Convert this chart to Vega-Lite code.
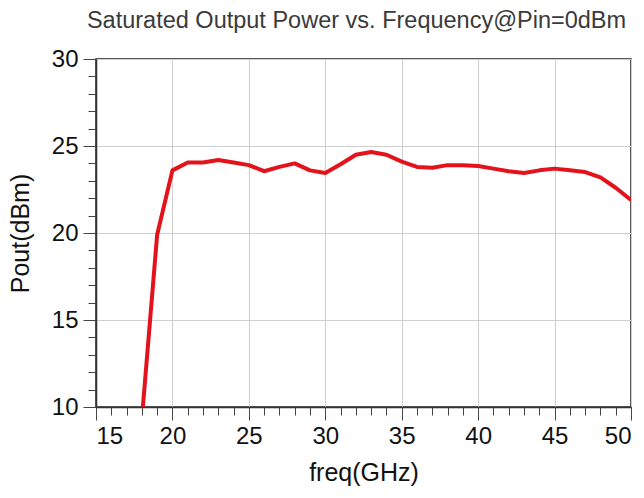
{
  "$schema": "https://vega.github.io/schema/vega-lite/v6.json",
  "width": 535,
  "height": 348,
  "autosize": {"type": "none"},
  "padding": {"left": 96, "top": 59, "right": 13, "bottom": 91},
  "background": "white",
  "title": {
    "text": "Saturated Output Power vs. Frequency@Pin=0dBm",
    "font": "Liberation Sans",
    "fontSize": 23.5,
    "fontWeight": "normal",
    "color": "#3a3a3a",
    "anchor": "middle",
    "dx": -7,
    "baseline": "alphabetic",
    "offset": -4
  },
  "config": {
    "view": {"stroke": "#222", "strokeWidth": 1.5},
    "axis": {
      "labelFont": "Liberation Sans",
      "titleFont": "Liberation Sans",
      "labelColor": "#111",
      "titleColor": "#111",
      "domainColor": "#333",
      "domainWidth": 1.5,
      "tickColor": "#444",
      "gridColor": "#cfcfcf",
      "gridWidth": 1
    }
  },
  "data": {
    "values": [
      {"f": 18, "p": 9.3},
      {"f": 19, "p": 19.9},
      {"f": 20, "p": 23.6},
      {"f": 21, "p": 24.05},
      {"f": 22, "p": 24.05},
      {"f": 23, "p": 24.2},
      {"f": 24, "p": 24.05},
      {"f": 25, "p": 23.9},
      {"f": 26, "p": 23.55},
      {"f": 27, "p": 23.8},
      {"f": 28, "p": 24.0},
      {"f": 29, "p": 23.6},
      {"f": 30, "p": 23.45},
      {"f": 31, "p": 23.95},
      {"f": 32, "p": 24.5},
      {"f": 33, "p": 24.65},
      {"f": 34, "p": 24.5},
      {"f": 35, "p": 24.1},
      {"f": 36, "p": 23.8},
      {"f": 37, "p": 23.75},
      {"f": 38, "p": 23.9},
      {"f": 39, "p": 23.9},
      {"f": 40, "p": 23.85},
      {"f": 41, "p": 23.7},
      {"f": 42, "p": 23.55},
      {"f": 43, "p": 23.45},
      {"f": 44, "p": 23.6},
      {"f": 45, "p": 23.7},
      {"f": 46, "p": 23.6},
      {"f": 47, "p": 23.5},
      {"f": 48, "p": 23.2},
      {"f": 49, "p": 22.6},
      {"f": 50, "p": 21.9}
    ]
  },
  "layer": [
    {
      "mark": {"type": "line", "opacity": 0},
      "encoding": {
        "x": {
          "field": "f", "type": "quantitative",
          "scale": {"domain": [15, 50], "nice": false},
          "axis": {
            "orient": "bottom",
            "values": [16,17,18,19,21,22,23,24,26,27,28,29,31,32,33,34,36,37,38,39,41,42,43,44,46,47,48,49],
            "labels": false, "grid": false, "domain": false, "tickSize": 8, "title": null, "offset": 0
          }
        },
        "y": {
          "field": "p", "type": "quantitative",
          "scale": {"domain": [10, 30], "nice": false},
          "axis": {
            "orient": "left",
            "values": [11,12,13,14,16,17,18,19,21,22,23,24,26,27,28,29],
            "labels": false, "grid": false, "domain": false, "tickSize": 8, "title": null, "offset": 0
          }
        }
      }
    },
    {
      "mark": {"type": "line", "color": "#e3121b", "strokeWidth": 4, "clip": true, "strokeJoin": "round"},
      "encoding": {
        "x": {
          "field": "f", "type": "quantitative",
          "scale": {"domain": [15, 50], "nice": false},
          "axis": {
            "orient": "bottom",
            "values": [15, 20, 25, 30, 35, 40, 45, 50],
            "grid": true,
            "tickSize": 13,
            "labelFontSize": 24,
            "labelPadding": 4,
            "title": "freq(GHz)",
            "titleFontSize": 25,
            "titleFontWeight": "normal",
            "titlePadding": 12
          }
        },
        "y": {
          "field": "p", "type": "quantitative",
          "scale": {"domain": [10, 30], "nice": false},
          "axis": {
            "orient": "left",
            "values": [10, 15, 20, 25, 30],
            "grid": true,
            "tickSize": 13,
            "labelFontSize": 24,
            "labelPadding": 5,
            "title": "Pout(dBm)",
            "titleFontSize": 25,
            "titleFontWeight": "normal",
            "titlePadding": 18
          }
        }
      }
    }
  ],
  "resolve": {"axis": {"x": "independent", "y": "independent"}}
}
